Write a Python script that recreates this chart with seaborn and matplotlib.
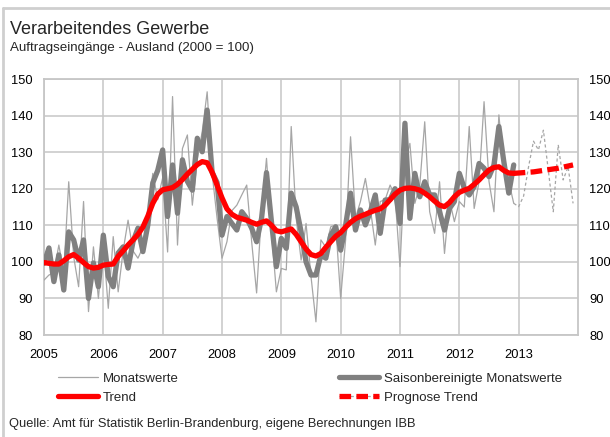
import numpy as np
import pandas as pd
import seaborn as sns
import matplotlib.pyplot as plt
from matplotlib.lines import Line2D
from matplotlib.legend_handler import HandlerTuple

# Auftragseingänge Ausland, 2000 = 100, monthly Jan 2005 - Dec 2012
monatswerte = [
    95, 96.4, 97, 104.6, 97, 121.9, 101.4, 93.2, 116.5, 86.4, 104.1, 90,
    105, 87.3, 106.9, 91.8, 103, 111.4, 103, 101, 104, 112, 124.2, 117,
    123, 102.7, 145.2, 104.6, 131, 134.7, 115.5, 128, 135.6, 146.5, 124.2, 112,
    101, 105.5, 114, 115.5, 118.3, 121, 105.5, 91.5, 113.7, 128.3, 108.2, 91.8,
    98.2, 97.8, 137, 111.9, 100.5, 110.5, 96, 83.6, 106, 104, 109.6, 110.1,
    90, 106, 134.2, 112, 116.5, 122.8, 114.6, 104.6, 116.5, 117, 121, 118,
    98.7, 127, 132.4, 116, 121, 138.3, 113.7, 107.8, 121.9, 102.3, 117, 111,
    116.5, 115, 137, 114.6, 122, 143.8, 122, 113.7, 140.2, 125, 122, 116,
]
saisonbereinigt = [
    99.6, 103.8, 94.6, 101.9, 92.3, 108.2, 106, 100.5, 106, 90, 99.7, 93.2,
    107.3, 96, 93.2, 102.4, 104.1, 98.3, 105.5, 109.2, 102.8, 110.1, 121.6, 125,
    130.6, 112.4, 126.5, 113.3, 127.9, 122, 119.6, 133.8, 130.1, 141.5, 124.5, 121.7,
    107.3, 112.4, 110.5, 108.7, 113.7, 111.9, 109.2, 105.5, 111.9, 124.4, 111, 98.7,
    106.4, 103.7, 118.8, 115, 108.2, 100, 96.4, 96.4, 101.9, 101, 107.3, 109.6,
    103.2, 110, 118.8, 108.7, 114.2, 110.1, 113.7, 118.3, 107.8, 116.9, 117, 120,
    110.5, 137.9, 111.9, 124.2, 117.8, 121.9, 118.3, 118.3, 113.7, 108.7, 114.6, 116.5,
    124.2, 120.1, 118.3, 120.6, 126.9, 125.6, 123.3, 126.5, 137, 127.4, 118.8, 126.5,
]
trend = [
    99.8, 99.6, 99.4, 99.4, 100.3, 101.4, 102, 101, 99.8, 98.7, 98.3, 98.5,
    99.1, 99.3, 99.4, 101.5, 103, 104.6, 106, 107.5, 109.5, 112.5, 116, 118.5,
    119.7, 120, 120.3, 121.2, 122.5, 124, 125.3, 126.6, 127.4, 127.1, 124.5, 121,
    117.5, 114.5, 113, 112.2, 111.8, 111.4, 110.8, 110.3, 110.8, 111.2, 110, 108.5,
    108.2, 108.6, 109, 107.5, 105.5, 103.5, 102, 101.6, 102.3, 104, 105.5, 107,
    108, 109.5, 110.8, 111.8, 112.5, 113, 113.6, 114.1, 114.5, 115.5, 117, 118.5,
    119.6, 120.1, 120.2, 120, 119.6, 118.8, 117.8, 116.6, 115.5, 115.1, 116.2, 117.8,
    119, 119.6, 120.1, 121.2, 122.4, 123.8, 125.1, 125.8, 126, 125, 124.3, 124.2,
]
# forecast Dec 2012 - Dec 2013
prognose_monatswerte = [116, 115.1, 118, 126, 133, 130.6, 136, 125, 113.7, 132, 122.4, 126, 116]
prognose_trend = [124.2, 124.3, 124.4, 124.5, 124.6, 124.8, 125, 125.2, 125.4, 125.6, 125.9, 126.2, 126.5]

years = list(range(2005, 2014))
y_ticks = list(range(80, 151, 10))

GRID = "#c6c6c6"
THIN = "#a6a6a6"
THICK = "#808080"
RED = "#ff0000"

sns.set_style("white")
plt.rcParams["font.family"] = ["Liberation Sans", "DejaVu Sans"]

hist = pd.DataFrame({
    "x": 2005 + np.arange(len(monatswerte)) / 12,
    "monatswerte": monatswerte,
    "saison": saisonbereinigt,
    "trend": trend,
})
prog = pd.DataFrame({
    "x": 2005 + (len(monatswerte) - 1 + np.arange(len(prognose_trend))) / 12,
    "monatswerte": prognose_monatswerte,
    "trend": prognose_trend,
})

fig = plt.figure(figsize=(6.1, 4.37), dpi=100)
ax = fig.add_axes([44 / 610, 1 - 335 / 437, 534 / 610, 256 / 437])

sns.lineplot(data=hist, x="x", y="monatswerte", ax=ax, color=THIN, linewidth=0.9, zorder=3)
sns.lineplot(data=prog, x="x", y="monatswerte", ax=ax, color=THIN, linewidth=0.9,
             linestyle=(0, (2.5, 2)), zorder=3)
sns.lineplot(data=hist, x="x", y="saison", ax=ax, color=THICK, linewidth=3.8, zorder=4)
sns.lineplot(data=hist, x="x", y="trend", ax=ax, color=RED, linewidth=3.8, zorder=5)
sns.lineplot(data=prog, x="x", y="trend", ax=ax, color=RED, linewidth=3.8,
             linestyle=(0, (2.2, 1)), zorder=5)

ax.set_xlim(2005, 2014)
ax.set_ylim(80, 150)
ax.set_xticks(years)
ax.set_xticklabels([str(y) for y in years])
ax.set_yticks(y_ticks)
ax.set_xlabel("")
ax.set_ylabel("")
ax.grid(True, color=GRID, linewidth=1.1)
ax.set_axisbelow(True)
for sp in ax.spines.values():
    sp.set_color(GRID)
    sp.set_linewidth(1.3)
ax.tick_params(axis="both", length=0, labelsize=9.3, colors="black")
ax.tick_params(axis="y", pad=8, labelright=True)
ax.tick_params(axis="x", pad=10)

# titles
fig.text(10 / 610, 1 - 34.5 / 437, "Verarbeitendes Gewerbe", fontsize=13, va="baseline")
fig.text(10 / 610, 1 - 50.7 / 437, "Auftragseingänge - Ausland (2000 = 100)", fontsize=9.6, va="baseline")
fig.text(9 / 610, 1 - 427.5 / 437,
         "Quelle: Amt für Statistik Berlin-Brandenburg, eigene Berechnungen IBB",
         fontsize=9.3, va="baseline")

# legend, two columns
h_mon = Line2D([], [], color=THIN, linewidth=0.9)
h_trend = Line2D([], [], color=RED, linewidth=3.8)
h_saison = Line2D([], [], color=THICK, linewidth=3.8)
h_prog = (Line2D([], [], color=THIN, linewidth=0.9, linestyle=(0, (2.5, 2))),
          Line2D([], [], color=RED, linewidth=3.8, linestyle=(0, (2.2, 1))))

leg_kw = dict(loc="upper left", frameon=False, fontsize=9.5, handlelength=3.0,
              handletextpad=0.4, labelspacing=0.5, borderpad=0, borderaxespad=0,
              bbox_transform=fig.transFigure)
fig.legend([h_mon, h_trend], ["Monatswerte", "Trend"],
           bbox_to_anchor=(58 / 610, 1 - 372.5 / 437), **leg_kw)
fig.legend([h_saison, h_prog], ["Saisonbereinigte Monatswerte", "Prognose Trend"],
           bbox_to_anchor=(339 / 610, 1 - 372.5 / 437),
           handler_map={tuple: HandlerTuple(ndivide=1)}, **leg_kw)

# outer frame of the graphic
fig.add_artist(Line2D([3 / 610, 1], [1 - 8 / 437, 1 - 8 / 437], color="#cfcfcf",
                      linewidth=2, transform=fig.transFigure))
fig.add_artist(Line2D([3 / 610, 3 / 610], [0, 1 - 8 / 437], color="#cfcfcf",
                      linewidth=2, transform=fig.transFigure))

fig.savefig("out.png", dpi=100)
